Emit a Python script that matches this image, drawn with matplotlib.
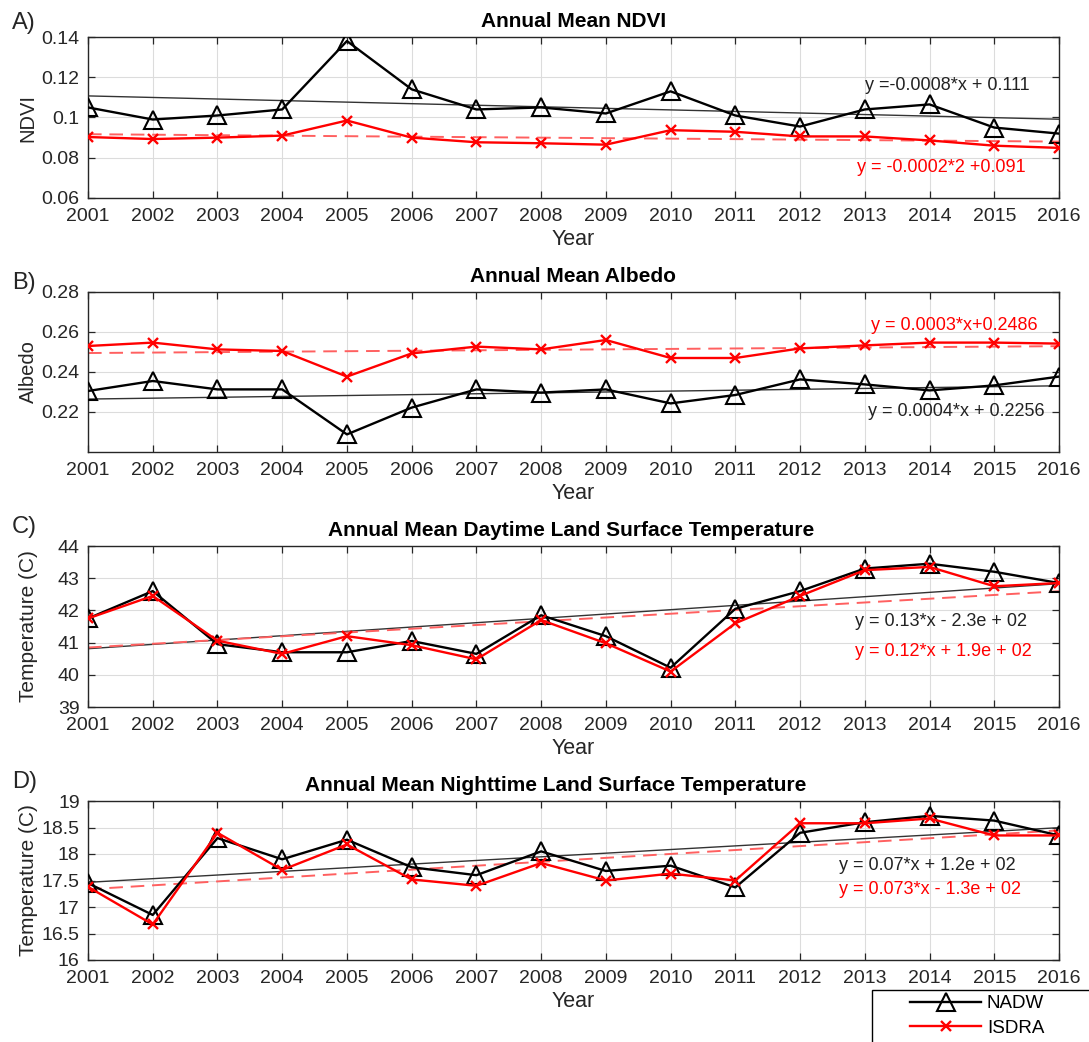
import numpy as np
import matplotlib
matplotlib.use("Agg")
import matplotlib.pyplot as plt
from matplotlib.patches import Rectangle
from matplotlib.lines import Line2D

plt.rcParams['font.family'] = ['Liberation Sans', 'DejaVu Sans']

years = list(range(2001, 2017))

ndvi_nadw = [0.105, 0.099, 0.101, 0.104, 0.138, 0.114, 0.104, 0.105, 0.102, 0.113,
             0.101, 0.0955, 0.104, 0.1065, 0.095, 0.092]
ndvi_isdra = [0.0903, 0.0893, 0.0900, 0.0910, 0.0985, 0.0900, 0.0877, 0.0872, 0.0865, 0.0937,
              0.0929, 0.0906, 0.0906, 0.0886, 0.0860, 0.0849]

alb_nadw = [0.2305, 0.2355, 0.2313, 0.2313, 0.2088, 0.2222, 0.2313, 0.2297, 0.2313, 0.2243,
            0.2285, 0.2363, 0.2338, 0.2308, 0.2333, 0.2377]
alb_isdra = [0.2530, 0.2547, 0.2513, 0.2505, 0.2377, 0.2493, 0.2527, 0.2513, 0.2560, 0.2470,
             0.2470, 0.2518, 0.2533, 0.2547, 0.2547, 0.2542]

day_nadw = [41.75, 42.6, 40.95, 40.7, 40.7, 41.05, 40.65, 41.85, 41.2, 40.22,
            42.05, 42.6, 43.3, 43.45, 43.2, 42.85]
day_isdra = [41.75, 42.45, 41.06, 40.65, 41.2, 40.92, 40.48, 41.7, 40.98, 40.1,
             41.6, 42.45, 43.25, 43.35, 42.75, 42.85]

night_nadw = [17.45, 16.85, 18.3, 17.9, 18.27, 17.75, 17.6, 18.05, 17.68, 17.78,
              17.37, 18.4, 18.6, 18.72, 18.63, 18.35]
night_isdra = [17.38, 16.67, 18.4, 17.7, 18.18, 17.52, 17.4, 17.83, 17.5, 17.63,
               17.5, 18.58, 18.58, 18.67, 18.35, 18.35]

titles = ["Annual Mean NDVI", "Annual Mean Albedo",
          "Annual Mean Daytime Land Surface Temperature",
          "Annual Mean Nighttime Land Surface Temperature"]
ylabels = ["NDVI", "Albedo", "Temperature (C)", "Temperature (C)"]
panel_tags = ["A)", "B)", "C)", "D)"]
ylims = [(0.06, 0.14), (0.20, 0.28), (39, 44), (16, 19)]
yticks = [[0.06, 0.08, 0.1, 0.12, 0.14], [0.22, 0.24, 0.26, 0.28],
          [39, 40, 41, 42, 43, 44], [16, 16.5, 17, 17.5, 18, 18.5, 19]]
ytick_labels = [["0.06", "0.08", "0.1", "0.12", "0.14"], ["0.22", "0.24", "0.26", "0.28"],
                ["39", "40", "41", "42", "43", "44"],
                ["16", "16.5", "17", "17.5", "18", "18.5", "19"]]
eq_black = ["y =-0.0008*x + 0.111", "y = 0.0004*x + 0.2256",
            "y = 0.13*x - 2.3e + 02", "y = 0.07*x + 1.2e + 02"]
eq_red = ["y = -0.0002*2 +0.091", "y = 0.0003*x+0.2486",
          "y = 0.12*x + 1.9e + 02", "y = 0.073*x - 1.3e + 02"]
eq_black_pos = [(2013.0, 0.1161), (2013.05, 0.2200), (2012.85, 41.64), (2012.6, 17.78)]
eq_red_pos = [(2012.88, 0.0754), (2013.1, 0.2635), (2012.85, 40.73), (2012.6, 17.33)]

nadw_all = [ndvi_nadw, alb_nadw, day_nadw, night_nadw]
isdra_all = [ndvi_isdra, alb_isdra, day_isdra, night_isdra]

fig = plt.figure(figsize=(10.89, 10.42), dpi=100)
W, H = 1089.0, 1042.0
tops = [37, 292, 546, 801]
bots = [198, 452, 707, 960]
tag_y = [23, 283, 527, 782]
title_x = [0.5, 0.5, 0.498, 0.482]
txtc = '#262626'

x = np.array(years)
for i in range(4):
    ax = fig.add_axes([88 / W, 1 - bots[i] / H, 971 / W, (bots[i] - tops[i]) / H])
    ax.grid(True, color='#dcdcdc', linewidth=0.8)
    ax.set_axisbelow(True)
    nadw = np.array(nadw_all[i])
    isdra = np.array(isdra_all[i])
    ax.plot(x, nadw, '-', color='black', lw=1.7, marker='^', ms=13,
            mfc='none', mec='black', mew=1.5, zorder=3)
    ax.plot(x, isdra, '-', color='red', lw=1.7, marker='x', ms=7.5,
            mew=1.7, zorder=4)
    pb = np.polyfit(x, nadw, 1)
    pr = np.polyfit(x, isdra, 1)
    ax.plot(x, np.polyval(pb, x), '-', color='#333333', lw=1.0, zorder=2)
    ax.plot(x, np.polyval(pr, x), '--', color='#ff6060', lw=1.4,
            dashes=(7, 4), zorder=2)
    ax.text(*eq_black_pos[i], eq_black[i], color='#222222', fontsize=13,
            va='center', ha='left')
    ax.text(*eq_red_pos[i], eq_red[i], color='red', fontsize=13,
            va='center', ha='left')
    ax.set_xlim(2001, 2016)
    ax.set_ylim(*ylims[i])
    ax.set_xticks(years)
    ax.set_xticklabels([str(y) for y in years])
    ax.set_yticks(yticks[i])
    ax.set_yticklabels(ytick_labels[i])
    ax.tick_params(direction='in', top=True, right=True, length=5, width=0.9,
                   labelsize=14, colors=txtc, pad=6)
    ax.tick_params(axis='x', pad=7)
    for s in ax.spines.values():
        s.set_color('#262626')
        s.set_linewidth(1.0)
    ax.set_title(titles[i], fontsize=15, fontweight='bold', pad=7, x=title_x[i])
    ax.set_xlabel("Year", fontsize=15.5, color=txtc, labelpad=3)
    ax.set_ylabel(ylabels[i], fontsize=15 if i >= 2 else 14.5, color=txtc)
    ax.yaxis.set_label_coords(-0.052, 0.5)
    fig.text(12 / W, 1 - tag_y[i] / H, panel_tags[i], fontsize=17,
             va='center', ha='left', color=txtc)

# legend box, cut off at the figure edge
fig.patches.append(Rectangle((872 / W, -0.05), 0.3, 0.05 + (1 - 990 / H),
                             transform=fig.transFigure, facecolor='white',
                             edgecolor='black', lw=1.0, clip_on=False))
handles = [Line2D([], [], color='black', lw=1.7, marker='^', ms=13, mfc='none', mew=1.5),
           Line2D([], [], color='red', lw=1.7, marker='x', ms=7.5, mew=1.7)]
fig.legend(handles, ["NADW", "ISDRA"], loc='upper left',
           bbox_to_anchor=(910 / W, 1 - 995 / H), frameon=False,
           fontsize=13.5, handlelength=3.8, handletextpad=0.3,
           borderpad=0, borderaxespad=0, labelspacing=0.4)

fig.savefig("out.png", dpi=100)
